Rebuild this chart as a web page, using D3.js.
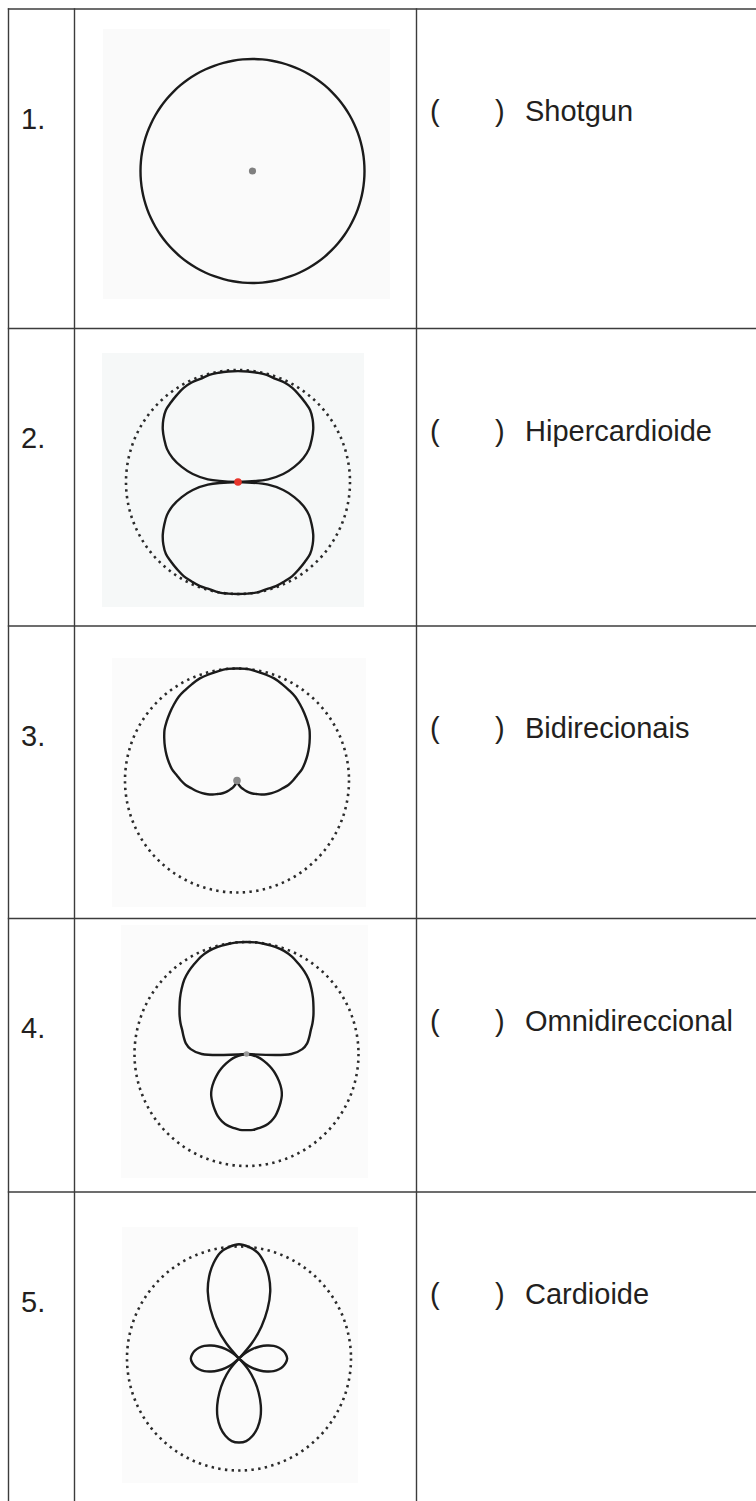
<!DOCTYPE html>
<html>
<head>
<meta charset="utf-8">
<script src="https://cdn.jsdelivr.net/npm/d3@7"></script>
<style>
  body { margin: 0; background: #fff; }
  text { font-family: 'Liberation Sans', Arial, Helvetica, sans-serif; fill: #231f20; }
</style>
</head>
<body>
<div id="chart"></div>
<script>
// Data: row numbers, answer options and the polar patterns (relative radius, read every 5 degrees, 0 = front)
let rowLabels = ['1.', '2.', '3.', '4.', '5.'];
let options = ['Shotgun', 'Hipercardioide', 'Bidirecionais', 'Omnidireccional', 'Cardioide'];

let angleDeg = [0, 5, 10, 15, 20, 25, 30, 35, 40, 45, 50, 55, 60, 65, 70, 75, 80, 85, 90,
  95, 100, 105, 110, 115, 120, 125, 130, 135, 140, 145, 150, 155, 160, 165, 170, 175, 180];

let omni = [1, 1, 1, 1, 1, 1, 1, 1, 1, 1, 1, 1, 1, 1, 1, 1, 1, 1, 1,
  1, 1, 1, 1, 1, 1, 1, 1, 1, 1, 1, 1, 1, 1, 1, 1, 1, 1];

let figureEight = [0.99, 0.99, 0.99, 0.99, 0.98, 0.98, 0.97, 0.95, 0.93, 0.91, 0.87, 0.82, 0.76, 0.70, 0.62, 0.52, 0.41, 0.27, 0,
  0.27, 0.41, 0.52, 0.62, 0.70, 0.76, 0.82, 0.87, 0.91, 0.93, 0.95, 0.97, 0.98, 0.99, 0.99, 1.00, 1.00, 1.00];

let cardioid = [1.00, 1.00, 0.99, 0.98, 0.97, 0.95, 0.93, 0.91, 0.88, 0.85, 0.82, 0.79, 0.75, 0.71, 0.67, 0.63, 0.59, 0.54, 0.50,
  0.46, 0.41, 0.37, 0.33, 0.29, 0.25, 0.21, 0.18, 0.15, 0.12, 0.09, 0.07, 0.05, 0.03, 0.017, 0.008, 0.002, 0];

let superCardioid = [1.00, 1.00, 0.995, 0.99, 0.98, 0.96, 0.93, 0.90, 0.865, 0.82, 0.775, 0.73, 0.69, 0.65, 0.61, 0.58, 0.55, 0.50, 0.40,
  0, 0.05, 0.10, 0.15, 0.20, 0.26, 0.32, 0.38, 0.44, 0.49, 0.53, 0.57, 0.61, 0.64, 0.66, 0.67, 0.68, 0.68];

let shotgun = [1.02, 1.00, 0.96, 0.88, 0.78, 0.66, 0.51, 0.35, 0.18, 0,
  0.075, 0.15, 0.215, 0.275, 0.33, 0.37, 0.40, 0.42, 0.43, 0.42, 0.40, 0.37, 0.33, 0.275, 0.215, 0.15, 0.075,
  0, 0.13, 0.24, 0.35, 0.46, 0.56, 0.64, 0.70, 0.74, 0.75];

let patterns = [omni, figureEight, cardioid, superCardioid, shotgun];

// Layout
let width = 756,
  height = 1501;

let rowTops = [9, 328.5, 626, 918.5, 1192];
let colX = [8.5, 74.5, 416.5];
let centers = [[252.5, 171], [238, 482], [237, 780.5], [246.5, 1054], [239, 1358.5]];
let panels = [[103, 29, 390, 299], [102, 353, 364, 607], [112, 658, 366, 907], [121, 925, 368, 1178], [122, 1227, 358, 1483]];
let panelFill = ['#fafafa', '#f6f8f8', '#fbfbfb', '#fbfbfb', '#fbfbfb'];
let dotFill = ['#808080', '#e8352b', '#8a8a8a', '#9a9a9a', 'none'];
let dotR = [3.6, 3.8, 3.8, 2.8, 0];

let svg = d3.select('#chart')
  .append('svg')
  .attr('width', width)
  .attr('height', height)
  .style('display', 'block')
  .style('background', '#fff');

// Scales for the polar plots
let rScale = d3.scaleLinear().domain([0, 1]).range([0, 112]);
let aScale = d3.scaleLinear().domain([0, 360]).range([0, 2 * Math.PI]);

// Split a half profile into lobes (they meet where the radius is 0)
function lobes(vals) {
  let pts = [];
  for (let i = angleDeg.length - 2; i >= 1; i--) pts.push([-angleDeg[i], vals[i]]);
  for (let i = 0; i < angleDeg.length; i++) pts.push([angleDeg[i], vals[i]]);
  let start = pts.findIndex(p => p[1] === 0);
  if (start < 0) return {closed: true, parts: [pts]};
  let ring = pts.slice(start).concat(pts.slice(0, start + 1));
  let parts = [], cur = [ring[0]];
  for (let k = 1; k < ring.length; k++) {
    cur.push(ring[k]);
    if (ring[k][1] === 0) {
      if (cur.some(q => q[1] > 0)) parts.push(cur);
      cur = [ring[k]];
    }
  }
  return {closed: false, parts: parts};
}

let radial = d3.lineRadial()
  .angle(d => aScale(d[0]))
  .radius(d => rScale(d[1]));

// Picture panels
svg.selectAll('rect.panel')
  .data(panels)
  .enter()
  .append('rect')
  .attr('class', 'panel')
  .attr('x', d => d[0])
  .attr('y', d => d[1])
  .attr('width', d => d[2] - d[0])
  .attr('height', d => d[3] - d[1])
  .attr('fill', (d, i) => panelFill[i]);

// Polar patterns
patterns.forEach((vals, i) => {
  let g = svg.append('g')
    .attr('transform', `translate(${centers[i][0]},${centers[i][1]})`);

  if (i > 0) {
    g.append('circle')
      .attr('r', rScale(1))
      .attr('fill', 'none')
      .attr('stroke', '#2b2b2b')
      .attr('stroke-width', 2.6)
      .attr('stroke-dasharray', '2.4 4.3');
  }

  let lb = lobes(vals);
  radial.curve(lb.closed ? d3.curveCatmullRomClosed.alpha(0.5) : d3.curveCatmullRom.alpha(0.5));
  lb.parts.forEach(part => {
    g.append('path')
      .attr('d', radial(part))
      .attr('fill', 'none')
      .attr('stroke', '#1b1b1b')
      .attr('stroke-width', 2.4)
      .attr('stroke-linejoin', 'round');
  });

  if (dotR[i] > 0) {
    g.append('circle')
      .attr('r', dotR[i])
      .attr('fill', dotFill[i]);
  }
});

// Table lines
let lineCol = '#3c3c3c';
svg.selectAll('line.h')
  .data(rowTops)
  .enter()
  .append('line')
  .attr('x1', colX[0] - 0.7)
  .attr('x2', width)
  .attr('y1', d => d)
  .attr('y2', d => d)
  .attr('stroke', lineCol)
  .attr('stroke-width', 1.4);

svg.selectAll('line.v')
  .data(colX)
  .enter()
  .append('line')
  .attr('x1', d => d)
  .attr('x2', d => d)
  .attr('y1', rowTops[0] - 0.7)
  .attr('y2', height)
  .attr('stroke', lineCol)
  .attr('stroke-width', 1.4);

// Texts
svg.selectAll('text.num')
  .data(rowLabels)
  .enter()
  .append('text')
  .attr('x', 21)
  .attr('y', (d, i) => rowTops[i] + 119.5)
  .style('font-size', '29px')
  .text(d => d);

let opt = svg.selectAll('g.opt')
  .data(options)
  .enter()
  .append('g')
  .attr('transform', (d, i) => `translate(0,${rowTops[i] + 112})`)
  .style('font-size', '29px');

opt.append('text').attr('x', 430).text('(');
opt.append('text').attr('x', 495).text(')');
opt.append('text').attr('x', 525).text(d => d);
</script>
</body>
</html>
